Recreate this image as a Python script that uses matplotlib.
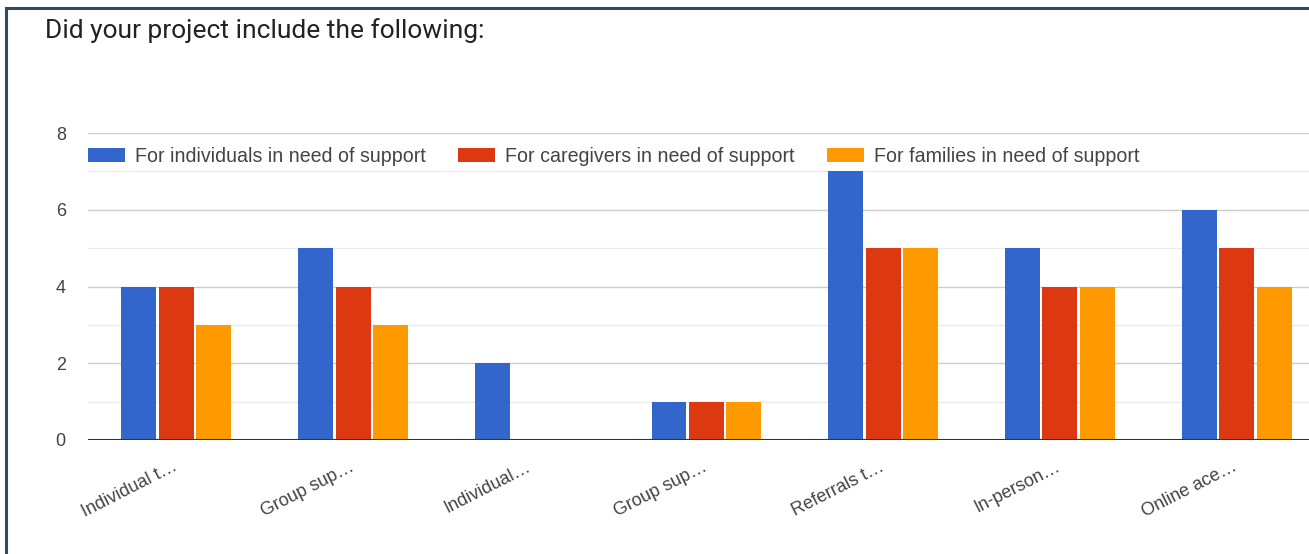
import matplotlib.pyplot as plt
import matplotlib.transforms as mtransforms
import numpy as np
from matplotlib.lines import Line2D

plt.rcParams['font.family'] = ['Liberation Sans', 'DejaVu Sans']

categories = ["Individual t…", "Group sup…", "Individual…", "Group sup…",
              "Referrals t…", "In-person…", "Online ace…"]
individuals = [4, 5, 2, 1, 7, 5, 6]
caregivers = [4, 4, 0, 1, 5, 4, 5]
families = [3, 3, 0, 1, 5, 4, 4]
series_names = ["For individuals in need of support",
                "For caregivers in need of support",
                "For families in need of support"]
colors = ["#3366cc", "#dc3912", "#ff9900"]

W, H = 1309, 554
fig = plt.figure(figsize=(W / 100, H / 100), dpi=100)
ax = fig.add_axes([88 / W, 114 / H, 1 - 88 / W, (440 - 133) / H])

x = np.arange(len(categories))
step = 0.212
width = 0.198
for k, vals in enumerate([individuals, caregivers, families]):
    ax.bar(x + (k - 1) * step, vals, width, color=colors[k],
           label=series_names[k], zorder=3)

ax.set_xlim(-0.5, (W - 177) / 176.6)
ax.set_ylim(0, 8)
ax.set_yticks([0, 2, 4, 6, 8])
ax.set_yticks([1, 3, 5, 7], minor=True)
ax.grid(axis='y', which='major', color='#cccccc', linewidth=1, zorder=0)
ax.grid(axis='y', which='minor', color='#ebebeb', linewidth=1, zorder=0)
ax.axhline(0, color='#333333', linewidth=1.5, zorder=4)
for s in ax.spines.values():
    s.set_visible(False)
ax.tick_params(axis='y', which='both', length=0, pad=16, labelsize=13,
               labelcolor='#444444')
ax.tick_params(axis='x', length=0, pad=13)
ax.set_xticks(x)
ax.set_xticklabels(categories, rotation=27, ha='right', va='top',
                   rotation_mode='anchor', fontsize=13, color='#444444')
# nudge x labels a little to the left
shift = mtransforms.ScaledTranslation(-4 / 100, 0, fig.dpi_scale_trans)
for lbl in ax.get_xticklabels():
    lbl.set_transform(lbl.get_transform() + shift)

ax.legend(loc='upper left', bbox_to_anchor=(0, 0.955), ncol=3, frameon=False,
          fontsize=14.1, handlelength=1.9, handleheight=0.76,
          handletextpad=0.5, columnspacing=1.65, borderaxespad=0,
          borderpad=0, labelcolor='#444444')

fig.text(45 / W, 1 - 31 / H, "Did your project include the following:",
         fontsize=19, color='#222222', va='center', ha='left',
         family=['Roboto', 'DejaVu Sans'])

border = '#2d4b64'
fig.add_artist(Line2D([6 / W, 6 / W], [0, 1 - 8 / H], color=border,
                      linewidth=2.2, transform=fig.transFigure))
fig.add_artist(Line2D([6 / W, 1], [1 - 8 / H, 1 - 8 / H], color=border,
                      linewidth=2.2, transform=fig.transFigure))

fig.savefig("out.png", dpi=100)
